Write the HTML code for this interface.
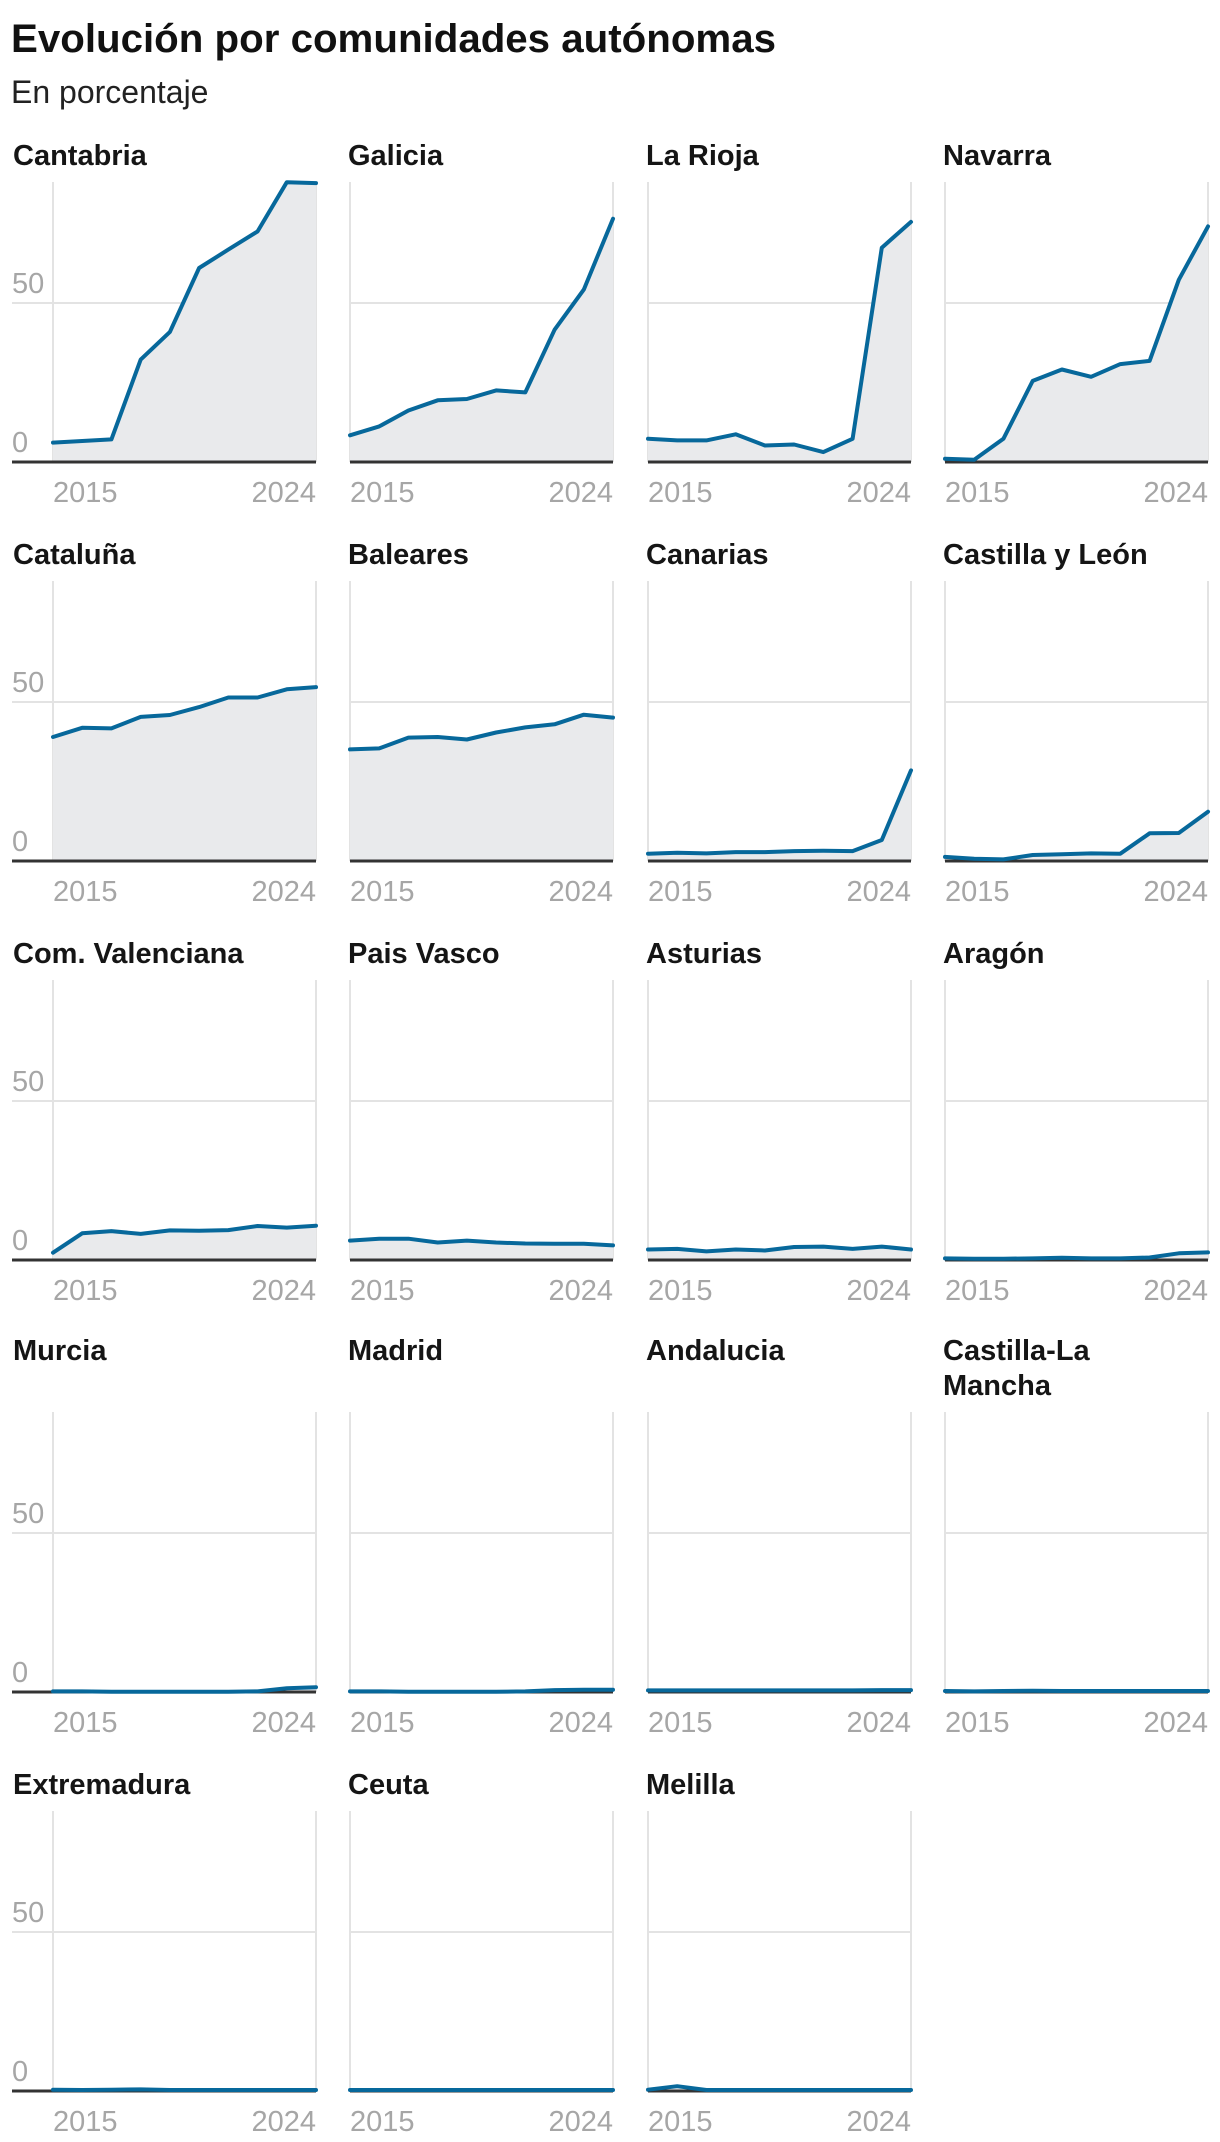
<!DOCTYPE html>
<html lang="es">
<head>
<meta charset="utf-8">
<style>
  html, body { margin: 0; padding: 0; background: #fff; }
  body { width: 1220px; height: 2142px; overflow: hidden; }
  svg { display: block; }
  text { font-family: "Liberation Sans", Arial, sans-serif; }
</style>
</head>
<body>
<svg id="chart" width="1220" height="2142" viewBox="0 0 1220 2142" xmlns="http://www.w3.org/2000/svg">
  <text x="11" y="52" font-size="40" font-weight="bold" fill="#111" textLength="765" lengthAdjust="spacingAndGlyphs">Evolución por comunidades autónomas</text>
  <text x="11" y="103" font-size="32" fill="#222">En porcentaje</text>
  <g id="panels"></g>
</svg>
<script>
const years = [2015, 2016, 2017, 2018, 2019, 2020, 2021, 2022, 2023, 2024];
const yTicks = [0, 50];
const xTickLabels = ["2015", "2024"];
const regionNames = [
  "Cantabria", "Galicia", "La Rioja", "Navarra",
  "Cataluña", "Baleares", "Canarias", "Castilla y León",
  "Com. Valenciana", "Pais Vasco", "Asturias", "Aragón",
  "Murcia", "Madrid", "Andalucia", "Castilla-La Mancha",
  "Extremadura", "Ceuta", "Melilla"
];
const cantabria = [6.1, 6.6, 7.1, 32.2, 40.9, 61.0, 66.8, 72.5, 88.0, 87.7];
const galicia = [8.4, 11.2, 16.2, 19.4, 19.8, 22.5, 21.9, 41.6, 54.2, 76.5];
const laRioja = [7.3, 6.8, 6.8, 8.7, 5.2, 5.5, 3.1, 7.3, 67.4, 75.5];
const navarra = [1.0, 0.7, 7.3, 25.5, 29.1, 26.8, 30.8, 31.8, 57.3, 74.1];
const cataluna = [39.0, 41.9, 41.7, 45.3, 45.9, 48.4, 51.4, 51.4, 54.0, 54.7];
const baleares = [35.1, 35.4, 38.8, 39.0, 38.2, 40.4, 42.0, 43.0, 46.0, 45.1];
const canarias = [2.3, 2.6, 2.4, 2.8, 2.8, 3.1, 3.2, 3.1, 6.6, 28.5];
const castillaLeon = [1.3, 0.7, 0.5, 1.9, 2.1, 2.4, 2.3, 8.7, 8.8, 15.5];
const valenciana = [2.3, 8.4, 9.1, 8.2, 9.3, 9.2, 9.4, 10.7, 10.2, 10.8];
const paisVasco = [6.1, 6.7, 6.7, 5.5, 6.1, 5.5, 5.2, 5.1, 5.1, 4.6];
const asturias = [3.3, 3.5, 2.7, 3.3, 3.0, 4.1, 4.2, 3.5, 4.2, 3.3];
const aragon = [0.5, 0.4, 0.4, 0.5, 0.7, 0.5, 0.5, 0.8, 2.1, 2.4];
const murcia = [0.2, 0.2, 0.1, 0.1, 0.1, 0.1, 0.1, 0.2, 1.2, 1.5];
const madrid = [0.2, 0.2, 0.1, 0.1, 0.1, 0.1, 0.2, 0.6, 0.7, 0.7];
const andalucia = [0.5, 0.5, 0.5, 0.5, 0.5, 0.5, 0.5, 0.5, 0.6, 0.6];
const castillaMancha = [0.3, 0.2, 0.3, 0.4, 0.3, 0.3, 0.3, 0.3, 0.3, 0.3];
const extremadura = [0.4, 0.3, 0.4, 0.5, 0.3, 0.3, 0.3, 0.3, 0.3, 0.3];
const ceuta = [0.3, 0.3, 0.3, 0.3, 0.3, 0.3, 0.3, 0.3, 0.3, 0.3];
const melilla = [0.4, 1.5, 0.3, 0.3, 0.3, 0.3, 0.3, 0.3, 0.3, 0.3];
const seriesList = [cantabria, galicia, laRioja, navarra, cataluna, baleares, canarias, castillaLeon,
  valenciana, paisVasco, asturias, aragon, murcia, madrid, andalucia, castillaMancha,
  extremadura, ceuta, melilla];

const NS = "http://www.w3.org/2000/svg";
const root = document.getElementById("panels");
const colX = [53, 350, 648, 945];
const plotW = 263;
const rowDY = [0, 399, 798, 1230, 1629];
const titleDY = [0, 399, 798, 1195, 1629];
const base0 = 462, top0 = 182, pxPerUnit = 3.18;

function mk(tag, attrs, parent) {
  const e = document.createElementNS(NS, tag);
  for (const k in attrs) e.setAttribute(k, attrs[k]);
  parent.appendChild(e);
  return e;
}
function slugify(s) {
  return s.toLowerCase().normalize("NFD").replace(/[\u0300-\u036f]/g, "").replace(/[^a-z0-9]+/g, "-").replace(/^-|-$/g, "");
}

regionNames.forEach((name, i) => {
  const col = i % 4, row = Math.floor(i / 4);
  const x0 = colX[col], x1 = x0 + plotW;
  const base = base0 + rowDY[row], top = top0 + rowDY[row];
  const xScale = (yr) => x0 + (yr - years[0]) / (years[years.length - 1] - years[0]) * plotW;
  const yScale = (v) => base - v * pxPerUnit;
  const slug = slugify(name);

  const g = mk("g", {}, root);
  
  

  // title
  const tY = 165 + titleDY[row];
  const t = mk("text", { x: x0 - 40 + (col === 0 ? 0 : 0), y: tY, "font-size": 29, "font-weight": "bold", fill: "#151515" }, g);
  t.setAttribute('x', col === 0 ? 13 : x0 - 2);
  
  
  if (name === "Castilla-La Mancha") {
    const s1 = mk("tspan", { x: x0 - 2 }, t); s1.textContent = "Castilla-La";
    const s2 = mk("tspan", { x: x0 - 2, dy: 35 }, t); s2.textContent = "Mancha";
  } else {
    t.textContent = name;
  }

  const lx = col === 0 ? 12 : x0;
  // gridlines
  yTicks.forEach(tv => {
    if (tv === 0) return;
    const gl = mk("line", { x1: lx, x2: x1, y1: yScale(tv), y2: yScale(tv), stroke: "#e3e3e3", "stroke-width": 2 }, g);
    
    
  });
  [x0, x1].forEach((vx, k) => {
    const vl = mk("line", { x1: vx, x2: vx, y1: top, y2: base, stroke: "#e3e3e3", "stroke-width": 2 }, g);
    
    
  });

  const data = seriesList[i];
  const pts = data.map((v, k) => xScale(years[k]).toFixed(1) + "," + yScale(v).toFixed(1));
  const area = mk("polygon", { points: x0 + "," + base + " " + pts.join(" ") + " " + x1 + "," + base, fill: "#e9eaec" }, g);
  
  

  const bl = mk("line", { x1: lx, x2: x1, y1: base, y2: base, stroke: "#333", "stroke-width": 3 }, g);
  
  

  const line = mk("polyline", { points: pts.join(" "), fill: "none", stroke: "#07689b", "stroke-width": 4, "stroke-linejoin": "round", "stroke-linecap": "round" }, g);
  
  

  if (col === 0) {
    yTicks.forEach(tv => {
      const yl = mk("text", { x: 12, y: yScale(tv) - 10, "font-size": 29, fill: "#a6a6a6" }, g);
      
      
      yl.textContent = String(tv);
    });
  }
  xTickLabels.forEach((lab, k) => {
    const xl = mk("text", { x: k === 0 ? x0 : x1, y: base + 40, "font-size": 29, fill: "#a6a6a6", "text-anchor": k === 0 ? "start" : "end" }, g);
    
    
    xl.textContent = lab;
  });
});
</script>
</body>
</html>
